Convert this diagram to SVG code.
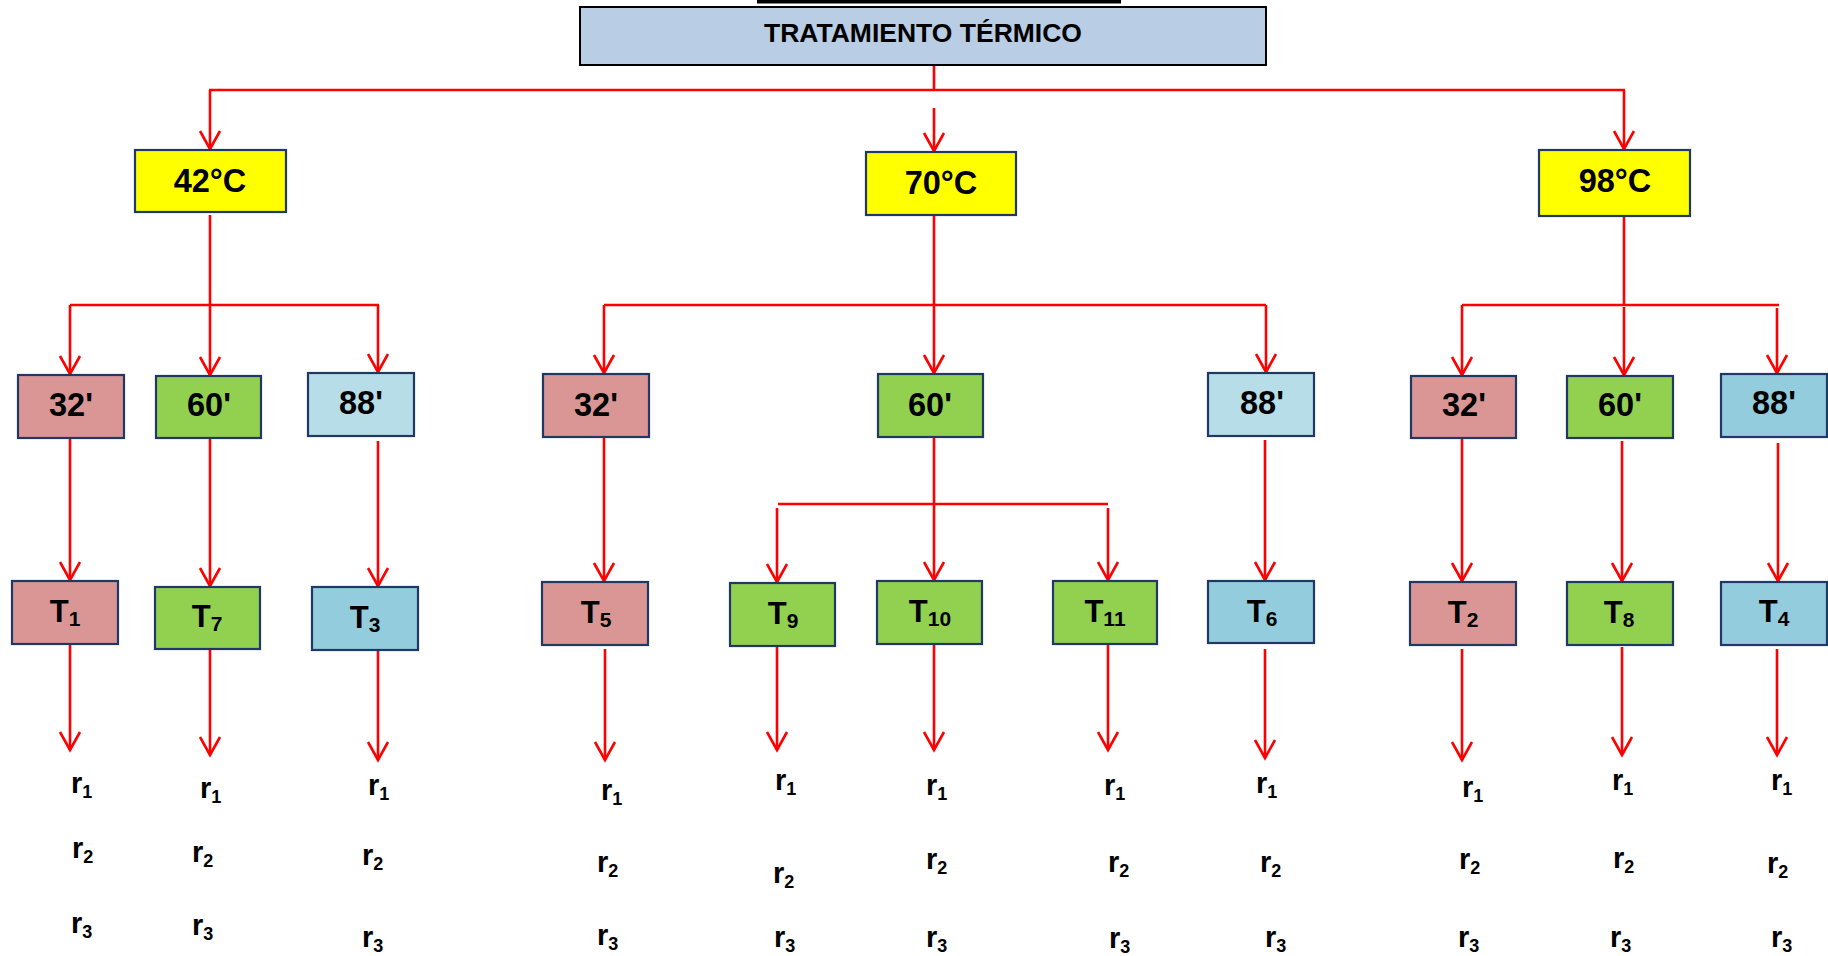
<svg xmlns="http://www.w3.org/2000/svg" width="1828" height="956" viewBox="0 0 1828 956">
<style>
text{font-family:"Liberation Sans",Arial,sans-serif;font-weight:bold;fill:#000}
.box{stroke:#1F3864;stroke-width:2.2}
.title{fill:#B9CDE5;stroke:#000;stroke-width:2}
.yel{fill:#FFFF00}
.pink{fill:#D99694}
.grn{fill:#92D050}
.lblue{fill:#B7DEE8}
.blue{fill:#93CDDD}
.lbl{font-size:32.5px;text-anchor:middle}
.tl{font-size:31px;text-anchor:middle}
.tt{font-size:26.5px;text-anchor:middle}
.r{font-size:29px}
.s1{font-size:21px}
.s2{font-size:18px}
.c line{stroke:#FF0000;stroke-width:2.6;fill:none}
</style>
<defs>
<marker id="ah" markerUnits="userSpaceOnUse" markerWidth="30" markerHeight="30" viewBox="-22 -15 30 30" refX="0" refY="0" orient="auto">
<path d="M-18,-10 L0,0 L-18,10" fill="none" stroke="#FF0000" stroke-width="2.6"/>
</marker>
</defs>
<rect x="0" y="0" width="1828" height="956" fill="#FFFFFF"/>
<rect x="757" y="0" width="364" height="3.5" fill="#000"/>

<g class="c" id="connectors">
<line x1="934" y1="66" x2="934" y2="90"/>
<line x1="209" y1="90" x2="1625" y2="90"/>
<line x1="210" y1="90" x2="210" y2="149" marker-end="url(#ah)"/>
<line x1="934" y1="108" x2="934" y2="151" marker-end="url(#ah)"/>
<line x1="1624" y1="90" x2="1624" y2="149" marker-end="url(#ah)"/>

<line x1="210" y1="215" x2="210" y2="305"/>
<line x1="70" y1="305" x2="379" y2="305"/>
<line x1="70" y1="305" x2="70" y2="374" marker-end="url(#ah)"/>
<line x1="210" y1="305" x2="210" y2="375" marker-end="url(#ah)"/>
<line x1="378" y1="305" x2="378" y2="372" marker-end="url(#ah)"/>

<line x1="934" y1="215" x2="934" y2="305"/>
<line x1="604" y1="305" x2="1266" y2="305"/>
<line x1="604" y1="305" x2="604" y2="373" marker-end="url(#ah)"/>
<line x1="934" y1="305" x2="934" y2="373" marker-end="url(#ah)"/>
<line x1="1266" y1="305" x2="1266" y2="372" marker-end="url(#ah)"/>

<line x1="1624" y1="216" x2="1624" y2="305"/>
<line x1="1462" y1="305" x2="1779" y2="305"/>
<line x1="1462" y1="305" x2="1462" y2="375" marker-end="url(#ah)"/>
<line x1="1624" y1="307" x2="1624" y2="375" marker-end="url(#ah)"/>
<line x1="1777" y1="308" x2="1777" y2="373" marker-end="url(#ah)"/>

<line x1="70" y1="438" x2="70" y2="580" marker-end="url(#ah)"/>
<line x1="210" y1="438" x2="210" y2="586" marker-end="url(#ah)"/>
<line x1="378" y1="441" x2="378" y2="586" marker-end="url(#ah)"/>
<line x1="604" y1="437" x2="604" y2="581" marker-end="url(#ah)"/>
<line x1="934" y1="438" x2="934" y2="504"/>
<line x1="778" y1="504" x2="1108" y2="504"/>
<line x1="777" y1="508" x2="777" y2="582" marker-end="url(#ah)"/>
<line x1="934" y1="504" x2="934" y2="580" marker-end="url(#ah)"/>
<line x1="1108" y1="508" x2="1108" y2="580" marker-end="url(#ah)"/>
<line x1="1265" y1="440" x2="1265" y2="580" marker-end="url(#ah)"/>
<line x1="1462" y1="438" x2="1462" y2="581" marker-end="url(#ah)"/>
<line x1="1622" y1="441" x2="1622" y2="581" marker-end="url(#ah)"/>
<line x1="1778" y1="443" x2="1778" y2="581" marker-end="url(#ah)"/>

<line x1="70" y1="644" x2="70" y2="750" marker-end="url(#ah)"/>
<line x1="210" y1="649" x2="210" y2="755" marker-end="url(#ah)"/>
<line x1="378" y1="650" x2="378" y2="760" marker-end="url(#ah)"/>
<line x1="605" y1="649" x2="605" y2="760" marker-end="url(#ah)"/>
<line x1="777" y1="646" x2="777" y2="750" marker-end="url(#ah)"/>
<line x1="934" y1="644" x2="934" y2="750" marker-end="url(#ah)"/>
<line x1="1108" y1="644" x2="1108" y2="750" marker-end="url(#ah)"/>
<line x1="1265" y1="649" x2="1265" y2="758" marker-end="url(#ah)"/>
<line x1="1462" y1="649" x2="1462" y2="760" marker-end="url(#ah)"/>
<line x1="1622" y1="647" x2="1622" y2="755" marker-end="url(#ah)"/>
<line x1="1777" y1="649" x2="1777" y2="755" marker-end="url(#ah)"/>
</g>

<g id="title"><rect class="title" x="580" y="7" width="686" height="58"/><text class="tt" x="923" y="42">TRATAMIENTO TÉRMICO</text></g>

<g id="t42"><rect class="box yel" x="135" y="150" width="151" height="62"/><text class="lbl" x="210" y="192">42°C</text></g>
<g id="t70"><rect class="box yel" x="866" y="152" width="150" height="63"/><text class="lbl" x="941" y="194">70°C</text></g>
<g id="t98"><rect class="box yel" x="1539" y="150" width="151" height="66"/><text class="lbl" x="1615" y="192">98°C</text></g>

<g id="m42_32"><rect class="box pink" x="18" y="375" width="106" height="63"/><text class="lbl" x="71" y="416">32'</text></g>
<g id="m42_60"><rect class="box grn" x="156" y="376" width="105" height="62"/><text class="lbl" x="209" y="416">60'</text></g>
<g id="m42_88"><rect class="box lblue" x="308" y="373" width="106" height="63"/><text class="lbl" x="361" y="414">88'</text></g>
<g id="m70_32"><rect class="box pink" x="543" y="374" width="106" height="63"/><text class="lbl" x="596" y="416">32'</text></g>
<g id="m70_60"><rect class="box grn" x="878" y="374" width="105" height="63"/><text class="lbl" x="930" y="416">60'</text></g>
<g id="m70_88"><rect class="box lblue" x="1208" y="373" width="106" height="63"/><text class="lbl" x="1262" y="414">88'</text></g>
<g id="m98_32"><rect class="box pink" x="1411" y="376" width="105" height="62"/><text class="lbl" x="1464" y="416">32'</text></g>
<g id="m98_60"><rect class="box grn" x="1567" y="376" width="106" height="62"/><text class="lbl" x="1620" y="416">60'</text></g>
<g id="m98_88"><rect class="box blue" x="1721" y="374" width="106" height="63"/><text class="lbl" x="1774" y="414">88'</text></g>

<g id="T1"><rect class="box pink" x="12" y="581" width="106" height="63"/><text class="tl" x="65" y="622">T<tspan class="s1" dy="4">1</tspan></text></g>
<g id="T7"><rect class="box grn" x="155" y="587" width="105" height="62"/><text class="tl" x="207" y="627">T<tspan class="s1" dy="4">7</tspan></text></g>
<g id="T3"><rect class="box blue" x="312" y="587" width="106" height="63"/><text class="tl" x="365" y="628">T<tspan class="s1" dy="4">3</tspan></text></g>
<g id="T5"><rect class="box pink" x="542" y="582" width="106" height="63"/><text class="tl" x="596" y="623">T<tspan class="s1" dy="4">5</tspan></text></g>
<g id="T9"><rect class="box grn" x="730" y="583" width="105" height="63"/><text class="tl" x="783" y="624">T<tspan class="s1" dy="4">9</tspan></text></g>
<g id="T10"><rect class="box grn" x="877" y="581" width="105" height="63"/><text class="tl" x="930" y="622">T<tspan class="s1" dy="4">10</tspan></text></g>
<g id="T11"><rect class="box grn" x="1053" y="581" width="104" height="63"/><text class="tl" x="1105" y="622">T<tspan class="s1" dy="4">11</tspan></text></g>
<g id="T6"><rect class="box blue" x="1208" y="581" width="106" height="62"/><text class="tl" x="1262" y="622">T<tspan class="s1" dy="4">6</tspan></text></g>
<g id="T2"><rect class="box pink" x="1410" y="582" width="106" height="63"/><text class="tl" x="1463" y="623">T<tspan class="s1" dy="4">2</tspan></text></g>
<g id="T8"><rect class="box grn" x="1567" y="582" width="106" height="63"/><text class="tl" x="1619" y="623">T<tspan class="s1" dy="4">8</tspan></text></g>
<g id="T4"><rect class="box blue" x="1721" y="582" width="106" height="63"/><text class="tl" x="1774" y="622">T<tspan class="s1" dy="4">4</tspan></text></g>

<g id="reps">
<text class="r" x="71" y="793">r<tspan class="s2" dy="5">1</tspan></text>
<text class="r" x="72" y="858">r<tspan class="s2" dy="5">2</tspan></text>
<text class="r" x="71" y="933">r<tspan class="s2" dy="5">3</tspan></text>
<text class="r" x="200" y="798">r<tspan class="s2" dy="5">1</tspan></text>
<text class="r" x="192" y="862">r<tspan class="s2" dy="5">2</tspan></text>
<text class="r" x="192" y="935">r<tspan class="s2" dy="5">3</tspan></text>
<text class="r" x="368" y="795">r<tspan class="s2" dy="5">1</tspan></text>
<text class="r" x="362" y="865">r<tspan class="s2" dy="5">2</tspan></text>
<text class="r" x="362" y="947">r<tspan class="s2" dy="5">3</tspan></text>
<text class="r" x="601" y="800">r<tspan class="s2" dy="5">1</tspan></text>
<text class="r" x="597" y="872">r<tspan class="s2" dy="5">2</tspan></text>
<text class="r" x="597" y="945">r<tspan class="s2" dy="5">3</tspan></text>
<text class="r" x="775" y="790">r<tspan class="s2" dy="5">1</tspan></text>
<text class="r" x="773" y="883">r<tspan class="s2" dy="5">2</tspan></text>
<text class="r" x="774" y="947">r<tspan class="s2" dy="5">3</tspan></text>
<text class="r" x="926" y="795">r<tspan class="s2" dy="5">1</tspan></text>
<text class="r" x="926" y="869">r<tspan class="s2" dy="5">2</tspan></text>
<text class="r" x="926" y="947">r<tspan class="s2" dy="5">3</tspan></text>
<text class="r" x="1104" y="795">r<tspan class="s2" dy="5">1</tspan></text>
<text class="r" x="1108" y="872">r<tspan class="s2" dy="5">2</tspan></text>
<text class="r" x="1109" y="948">r<tspan class="s2" dy="5">3</tspan></text>
<text class="r" x="1256" y="793">r<tspan class="s2" dy="5">1</tspan></text>
<text class="r" x="1260" y="872">r<tspan class="s2" dy="5">2</tspan></text>
<text class="r" x="1265" y="947">r<tspan class="s2" dy="5">3</tspan></text>
<text class="r" x="1462" y="797">r<tspan class="s2" dy="5">1</tspan></text>
<text class="r" x="1459" y="869">r<tspan class="s2" dy="5">2</tspan></text>
<text class="r" x="1458" y="947">r<tspan class="s2" dy="5">3</tspan></text>
<text class="r" x="1612" y="790">r<tspan class="s2" dy="5">1</tspan></text>
<text class="r" x="1613" y="868">r<tspan class="s2" dy="5">2</tspan></text>
<text class="r" x="1610" y="947">r<tspan class="s2" dy="5">3</tspan></text>
<text class="r" x="1771" y="790">r<tspan class="s2" dy="5">1</tspan></text>
<text class="r" x="1767" y="873">r<tspan class="s2" dy="5">2</tspan></text>
<text class="r" x="1771" y="947">r<tspan class="s2" dy="5">3</tspan></text>
</g>
</svg>
